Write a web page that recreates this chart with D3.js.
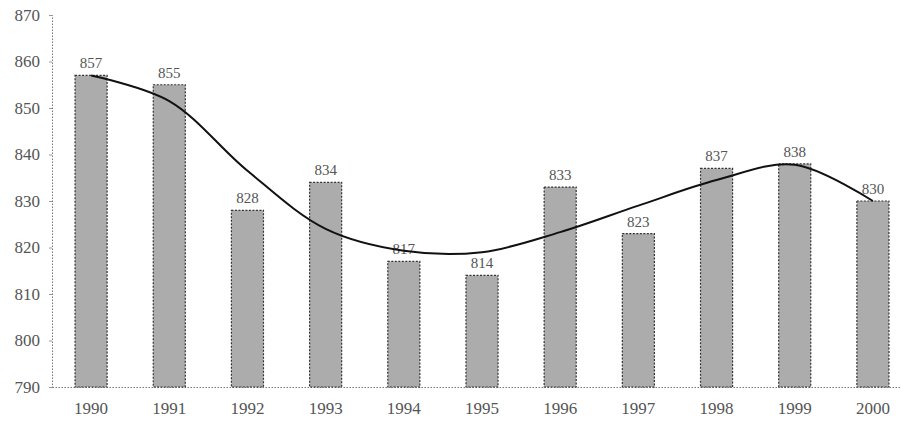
<!DOCTYPE html>
<html>
<head>
<meta charset="utf-8">
<script src="https://cdn.jsdelivr.net/npm/d3@7"></script>
<style>
  html, body { margin: 0; padding: 0; background: #fff; }
  svg { display: block; }
  text { font-family: "Liberation Serif", "DejaVu Serif", serif; fill: #555; }
</style>
</head>
<body>
<svg id="chart" width="901" height="425"></svg>
<script>
const years = ["1990","1991","1992","1993","1994","1995","1996","1997","1998","1999","2000"];
const values = [857, 855, 828, 834, 817, 814, 833, 823, 837, 838, 830];
const trend = [857, 851.5, 836.5, 824, 819.3, 819, 823.3, 829, 834.5, 837.8, 830];
const yTicks = [790, 800, 810, 820, 830, 840, 850, 860, 870];

const svg = d3.select("#chart");
const x = d3.scaleBand().domain(years).range([52, 912]).paddingInner(0.59).paddingOuter(0.295);
const y = d3.scaleLinear().domain([790, 870]).range([387, 15]);

// y axis (dotted)
const yAxis = d3.axisLeft(y).tickValues(yTicks).tickSize(3).tickPadding(9);
const gy = svg.append("g").attr("transform", "translate(52,0)").call(yAxis);
gy.select(".domain").attr("stroke", "#777").attr("stroke-dasharray", "1.5,1.5");
gy.selectAll(".tick line").attr("stroke", "#999");
gy.selectAll(".tick text").attr("font-size", 17).attr("fill", "#777")
  .style("font-family", "'Liberation Serif', serif");

// x axis (dotted baseline)
const xAxis = d3.axisBottom(x).tickSize(0).tickPadding(15);
const gx = svg.append("g").attr("transform", "translate(0,387)").call(xAxis);
gx.select(".domain").attr("stroke", "#777").attr("stroke-dasharray", "1.5,1.5");
gx.selectAll(".tick text").attr("font-size", 17).attr("fill", "#777")
  .style("font-family", "'Liberation Serif', serif");

// bars
svg.append("g").selectAll("rect").data(values).join("rect")
  .attr("x", (d, i) => x(years[i]))
  .attr("y", d => y(d))
  .attr("width", x.bandwidth())
  .attr("height", d => y(790) - y(d))
  .attr("fill", "#acacac")
  .attr("stroke", "#333")
  .attr("stroke-width", 1.2)
  .attr("stroke-dasharray", "2,1.5");

// value labels
svg.append("g").selectAll("text").data(values).join("text")
  .attr("x", (d, i) => x(years[i]) + x.bandwidth() / 2)
  .attr("y", d => y(d) - 7)
  .attr("text-anchor", "middle")
  .attr("font-size", 15)
  .attr("fill", "#666")
  .text(d => d);

// smooth trend curve
const line = d3.line()
  .x((d, i) => x(years[i]) + x.bandwidth() / 2)
  .y(d => y(d))
  .curve(d3.curveCatmullRom.alpha(0.5));
svg.append("path").datum(trend)
  .attr("d", line)
  .attr("fill", "none")
  .attr("stroke", "#111")
  .attr("stroke-width", 2);
</script>
</body>
</html>
